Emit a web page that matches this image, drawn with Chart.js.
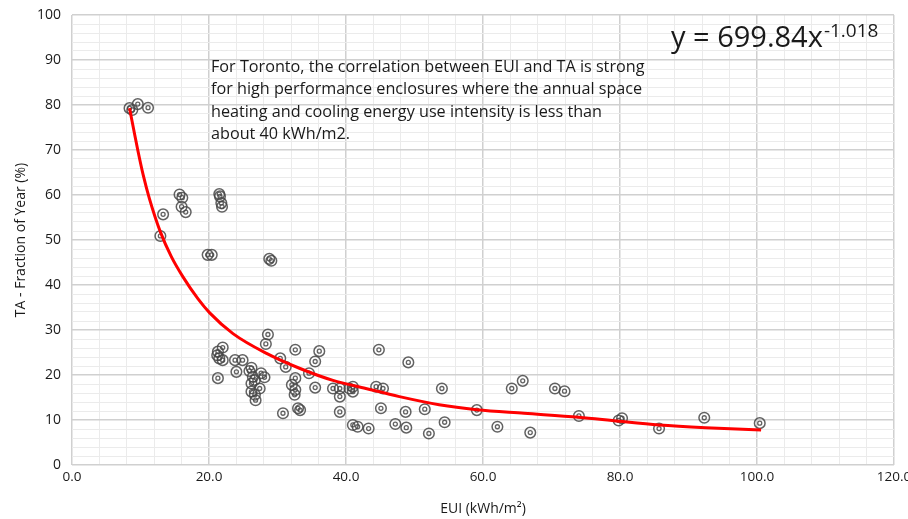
<!DOCTYPE html>
<html>
<head>
<meta charset="utf-8">
<script src="https://cdn.jsdelivr.net/npm/chart.js@4"></script>
<style>
  html, body { margin: 0; padding: 0; background: #fff; }
  #wrap { width: 908px; height: 519px; }
</style>
</head>
<body>
<div id="wrap"><canvas id="chart"></canvas></div>
<script>
// scatter points (EUI in kWh/m2, TA in %)
const euiValues = [8.4, 8.8, 9.6, 11.1,
  15.7, 16.1, 16.0, 16.6, 13.3, 12.9, 21.5, 21.6, 21.8, 21.9, 19.8, 20.4, 28.8, 29.1,
  22.0, 21.3, 21.2, 21.5, 22.0, 21.3, 28.6, 28.3, 23.8, 24.9, 24.0, 26.2, 25.9, 27.6, 28.1, 26.4,
  26.2, 26.7, 27.4, 26.2, 26.7, 26.8, 30.4, 31.2, 32.6, 36.1, 35.5, 34.6, 32.6, 32.1, 32.6, 32.5,
  33.0, 33.3, 30.8, 35.5,
  38.1, 39.1, 39.1, 39.1, 40.5, 41.0, 41.0, 41.0, 41.7, 43.3, 44.8, 44.4, 45.4, 45.1, 47.2, 48.7,
  48.8, 49.1, 51.5, 52.1, 54.0, 54.4,
  59.1, 62.1, 64.2, 65.8, 66.9, 70.5, 71.9, 74.0, 79.8, 80.3, 85.7, 92.3, 100.4];
const taValues = [79.3, 78.9, 80.2, 79.4,
  60.1, 59.4, 57.4, 56.2, 55.7, 50.9, 60.2, 59.7, 58.2, 57.4, 46.7, 46.7, 45.8, 45.4,
  26.1, 25.2, 24.4, 23.7, 23.3, 19.3, 29.0, 26.9, 23.3, 23.3, 20.7, 21.6, 20.9, 20.4, 19.5, 19.6,
  18.1, 18.9, 17.0, 16.3, 15.6, 14.4, 23.7, 21.8, 25.6, 25.3, 23.0, 20.4, 19.3, 17.8, 16.7, 15.6,
  12.6, 12.2, 11.5, 17.2,
  17.0, 17.0, 15.2, 11.8, 17.0, 17.4, 16.3, 8.9, 8.5, 8.1, 25.6, 17.4, 17.0, 12.6, 9.1, 11.8,
  8.3, 22.8, 12.4, 7.0, 17.0, 9.5,
  12.2, 8.5, 17.0, 18.7, 7.2, 17.0, 16.4, 10.9, 9.9, 10.4, 8.1, 10.5, 9.3];

// power trendline as drawn in the picture
const trendEui = [8.4, 9.0, 9.6, 10.4, 11.3, 12.9, 14.5, 16.2, 18.4, 20.1, 23.5, 28.4, 33.2, 38.1,
  42.9, 47.8, 53.6, 59.1, 66.0, 74.0, 79.9, 85.7, 92.5, 100.6];
const trendTa = [79.3, 74.6, 70.0, 64.4, 59.2, 51.8, 46.3, 41.8, 36.9, 33.8, 29.2, 24.8, 21.5, 18.8,
  17.0, 15.2, 13.4, 12.3, 11.5, 10.6, 9.7, 8.9, 8.3, 7.8];

const xTicks = [0, 20, 40, 60, 80, 100, 120];
const yTicks = [0, 10, 20, 30, 40, 50, 60, 70, 80, 90, 100];

const noteLines = [
  'For Toronto, the correlation between EUI and TA is strong',
  'for high performance enclosures where the annual space',
  'heating and cooling energy use intensity is less than',
  'about 40 kWh/m2.'
];
const eqMain = 'y = 699.84x';
const eqPow = '-1.018';

const pts = euiValues.map((x, i) => ({ x: x, y: taValues[i] }));
const trend = trendEui.map((x, i) => ({ x: x, y: trendTa[i] }));

const textFont = '"Open Sans", "Noto Sans", sans-serif';
const ringColor = 'rgba(70,70,70,0.85)';

// note text and equation
const notes = {
  id: 'notes',
  afterDraw(chart) {
    const ctx = chart.ctx;
    ctx.save();
    ctx.fillStyle = '#1a1a1a';
    ctx.textAlign = 'left';
    ctx.textBaseline = 'alphabetic';
    ctx.font = '16.2px ' + textFont;
    noteLines.forEach((t, i) => ctx.fillText(t, 211, 72 + i * 22.4));
    ctx.font = '29px ' + textFont;
    ctx.fillText(eqMain, 671, 47);
    const w = ctx.measureText(eqMain).width;
    ctx.font = '19px ' + textFont;
    ctx.fillText(eqPow, 671 + w + 1, 37);
    ctx.restore();
  }
};

function isMajor(ctx) {
  const v = ctx.tick ? ctx.tick.value : 0;
  return ctx.scale.axis === 'x' ? v % 20 === 0 : v % 10 === 0;
}

new Chart(document.querySelector('#chart'), {
  type: 'scatter',
  data: {
    datasets: [
      {
        label: 'trend',
        data: trend,
        showLine: true,
        borderColor: '#ff0000',
        borderWidth: 3,
        pointRadius: 0,
        cubicInterpolationMode: 'monotone',
        order: 0
      },
      {
        label: 'TA',
        data: pts,
        pointRadius: 5.3,
        pointBorderWidth: 1.5,
        pointBorderColor: ringColor,
        pointBackgroundColor: 'rgba(0,0,0,0)',
        order: 1
      },
      {
        label: 'TA inner',
        data: pts,
        pointRadius: 2,
        pointBorderWidth: 1.3,
        pointBorderColor: ringColor,
        pointBackgroundColor: 'rgba(0,0,0,0)',
        order: 2
      }
    ]
  },
  options: {
    responsive: true,
    maintainAspectRatio: false,
    animation: false,
    layout: { padding: { top: 15, right: 14, left: 0, bottom: 0 } },
    plugins: { legend: { display: false }, tooltip: { enabled: false } },
    scales: {
      x: {
        type: 'linear',
        min: 0,
        max: 120,
        ticks: {
          stepSize: 4,
          autoSkip: false,
          maxRotation: 0,
          padding: 4,
          color: '#1a1a1a',
          font: { family: textFont, size: 13.5 },
          callback: v => xTicks.includes(v) ? v.toFixed(1) : ''
        },
        grid: { color: c => isMajor(c) ? '#d0d0d0' : '#ebebeb', lineWidth: c => isMajor(c) ? 1.5 : 1, drawTicks: false },
        border: { display: false },
        title: {
          display: true,
          text: 'EUI (kWh/m²)',
          color: '#1a1a1a',
          font: { family: textFont, size: 14 },
          padding: { top: 8, bottom: 2 }
        },
        afterFit(scale) {
          scale.height = 54;
          scale.paddingLeft = 0;
          scale.paddingRight = 0;
        }
      },
      y: {
        type: 'linear',
        min: 0,
        max: 100,
        ticks: {
          stepSize: 2,
          autoSkip: false,
          padding: 11,
          color: '#1a1a1a',
          font: { family: textFont, size: 14 },
          callback: v => yTicks.includes(v) ? String(v) : ''
        },
        grid: { color: c => isMajor(c) ? '#d0d0d0' : '#ebebeb', lineWidth: c => isMajor(c) ? 1.5 : 1, drawTicks: false },
        border: { display: false },
        title: {
          display: true,
          text: 'TA - Fraction of Year (%)',
          color: '#1a1a1a',
          font: { family: textFont, size: 14 },
          padding: { top: 13, bottom: 4 }
        },
        afterFit(scale) {
          scale.width = 72;
          scale.paddingTop = 0;
          scale.paddingBottom = 0;
        }
      }
    }
  },
  plugins: [notes]
});
</script>
</body>
</html>
